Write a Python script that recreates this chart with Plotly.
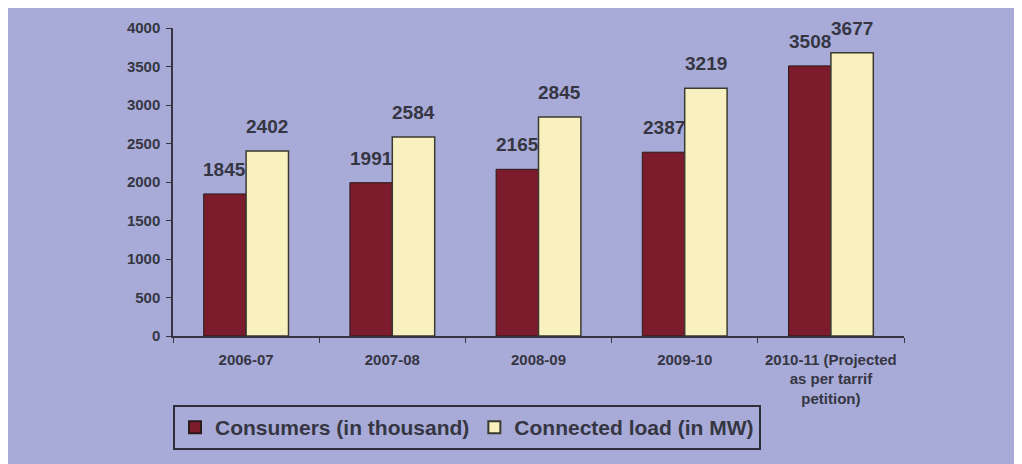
import plotly.graph_objects as go

categories = ["2006-07", "2007-08", "2008-09", "2009-10",
              "2010-11 (Projected<br>as per tarrif<br>petition)"]
consumers = [1845, 1991, 2165, 2387, 3508]
connected_load = [2402, 2584, 2845, 3219, 3677]
series_names = ["Consumers (in thousand)", "Connected load (in MW)"]
y_ticks = [0, 500, 1000, 1500, 2000, 2500, 3000, 3500, 4000]

BG = "#a8abd8"
DARK = "#363643"
FONT = "Liberation Sans, Arial, sans-serif"

W, H = 1014, 456
ML, MR, MT, MB = 165, 118, 11, 128
BARGAP = 0.42

fig = go.Figure()
fig.add_trace(go.Bar(
    x=categories, y=consumers, name=series_names[0],
    marker=dict(color="#7b1b2b", line=dict(color="#2a1a1a", width=1)),
))
fig.add_trace(go.Bar(
    x=categories, y=connected_load, name=series_names[1],
    marker=dict(color="#f8f0bf", line=dict(color="#3a3a30", width=1.5)),
))

# value labels, placed with the axis scales and shifted to each bar of the group
cat_px = (W - ML - MR) / len(categories)
bar_px = cat_px * (1 - BARGAP) / 2
for series, sign in ((consumers, -1), (connected_load, 1)):
    for cat, val in zip(categories, series):
        fig.add_annotation(
            x=cat, y=val, text=str(val), showarrow=False,
            xanchor="center", yanchor="bottom",
            xshift=sign * bar_px / 2, yshift=12,
            font=dict(family=FONT, size=19, color=DARK, weight="bold"),
        )

# The page body has an 8px margin: figure is 1014x456 so it fills the window.
fig.update_layout(
    width=W, height=H,
    margin=dict(l=ML, r=MR, t=MT, b=MB),
    paper_bgcolor=BG, plot_bgcolor=BG,
    barmode="group", bargap=BARGAP, bargroupgap=0,
    font=dict(family=FONT, color=DARK),
    showlegend=True,
    legend=dict(
        orientation="h", x=0, y=(328 - 399) / 317,
        xanchor="left", yanchor="top",
        bgcolor=BG, bordercolor="#2e2e38", borderwidth=2,
        font=dict(family=FONT, size=21, color=DARK, weight="bold"),
        itemsizing="constant", traceorder="normal",
    ),
)
fig.update_yaxes(
    range=[0, 4000], tickvals=y_ticks, showgrid=False, zeroline=False,
    showline=True, linecolor=DARK, linewidth=1.5,
    ticks="outside", ticklen=5, tickcolor=DARK, ticklabelstandoff=3,
    tickfont=dict(family=FONT, size=15, color=DARK, weight="bold"),
)
fig.update_xaxes(
    type="category",
    showgrid=False, showline=True, linecolor=DARK, linewidth=1.5,
    ticks="outside", ticklen=5, tickcolor=DARK, tickson="boundaries",
    ticklabelstandoff=9,
    tickfont=dict(family=FONT, size=15, color=DARK, weight="bold"),
    tickangle=0,
)

fig.write_html("out.html")
